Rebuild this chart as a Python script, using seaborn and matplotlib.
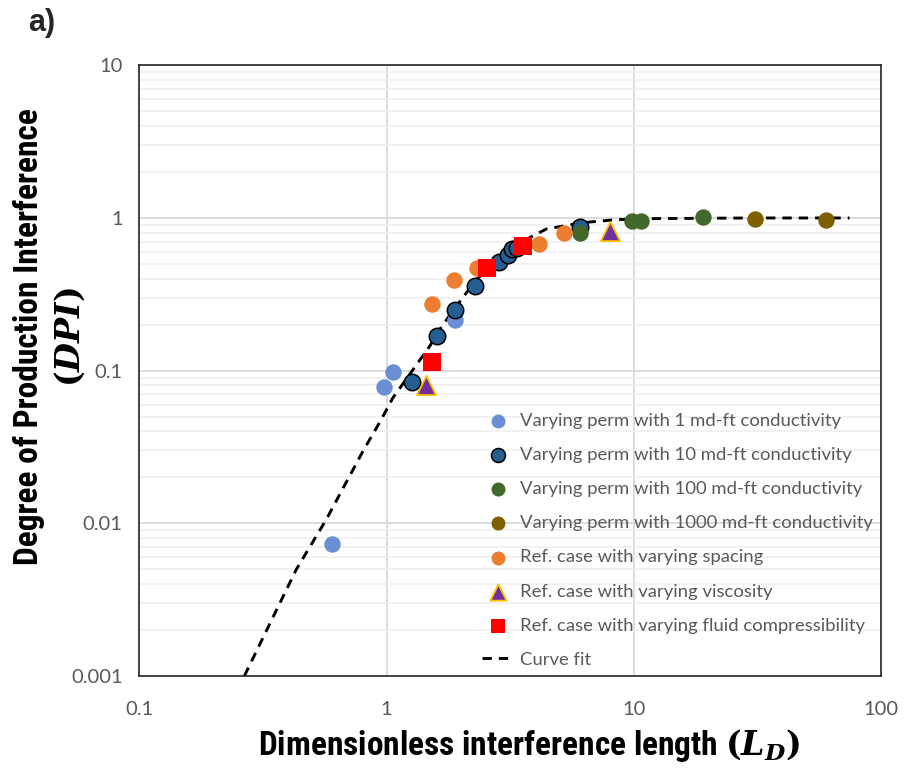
import matplotlib
matplotlib.use("Agg")
import matplotlib.pyplot as plt
import seaborn as sns
from matplotlib import font_manager as fm
from matplotlib.ticker import FixedLocator, FixedFormatter, LogLocator, NullFormatter

# ---------------- data ----------------
perm1_x = [0.601, 0.98, 1.067, 1.90]
perm1_y = [0.00733, 0.0778, 0.098, 0.216]
perm10_x = [1.266, 1.598, 1.90, 2.27, 2.84, 3.10, 3.22, 3.38, 6.04]
perm10_y = [0.0843, 0.168, 0.248, 0.356, 0.515, 0.575, 0.625, 0.636, 0.873]
perm100_x = [6.04, 9.86, 10.72, 19.0]
perm100_y = [0.798, 0.95, 0.96, 1.015]
perm1000_x = [30.8, 60.1]
perm1000_y = [0.985, 0.975]
spacing_x = [1.525, 1.867, 2.32, 4.13, 5.22]
spacing_y = [0.273, 0.394, 0.471, 0.679, 0.798]
visc_x = [1.447, 7.98]
visc_y = [0.080, 0.817]
comp_x = [1.525, 2.556, 3.58]
comp_y = [0.1133, 0.471, 0.659]
fit_x = [0.266, 0.431, 0.570, 0.802, 0.952, 1.06, 1.493, 1.64, 1.914,
         2.306, 2.78, 3.45, 4.43, 6.21, 8.52, 11.6, 29.4, 74.6]
fit_y = [0.001, 0.00497, 0.01057, 0.0296, 0.0478, 0.0662, 0.144, 0.186, 0.264,
         0.394, 0.520, 0.686, 0.847, 0.932, 0.975, 0.99, 1.0, 1.0]

x_ticks = [0.1, 1, 10, 100]
x_tick_labels = ["0.1", "1", "10", "100"]
y_ticks = [0.001, 0.01, 0.1, 1, 10]
y_tick_labels = ["0.001", "0.01", "0.1", "1", "10"]

labels = [
    "Varying perm with 1 md-ft conductivity",
    "Varying perm with 10 md-ft conductivity",
    "Varying perm with 100 md-ft conductivity",
    "Varying perm with 1000 md-ft conductivity",
    "Ref. case with varying spacing",
    "Ref. case with varying viscosity",
    "Ref. case with varying fluid compressibility",
    "Curve fit",
]
x_title_words = "Dimensionless interference length"
x_title = x_title_words + " $(L_D)$"
y_title = "Degree of Production Interference\n$(DPI)$"

# ---------------- style ----------------
sns.set_style("white")
plt.rcParams["font.family"] = ["Lato", "DejaVu Sans"]
plt.rcParams["mathtext.fontset"] = "custom"
plt.rcParams["mathtext.it"] = "DejaVu Serif:italic:bold"
plt.rcParams["mathtext.rm"] = "DejaVu Serif:bold"
plt.rcParams["mathtext.bf"] = "DejaVu Serif:bold"


def weight_num(w):
    try:
        return int(w)
    except (TypeError, ValueError):
        return {"bold": 700, "heavy": 800, "black": 900, "extra bold": 800,
                "semibold": 600, "demibold": 600, "demi": 600}.get(str(w).lower(), 400)


def pick_narrow_bold():
    prefs = ["liberation sans narrow", "arial narrow", "roboto condensed",
             "noto sans", "open sans", "dejavu sans"]
    best, best_score = None, None
    for f in fm.fontManager.ttflist:
        name = f.name.lower()
        st = str(f.stretch).lower()
        if "mono" in name or "serif" in name or "cjk" in name or "display" in name:
            continue
        if weight_num(f.weight) != 700:
            continue
        fname = f.fname.lower()
        is_cond = ("narrow" in name or "condensed" in name or st in ("condensed", "semi-condensed")
                   or ("condensed" in fname and "extra" not in fname and "semi" not in fname)
                   or (st.isdigit() and 500 <= int(st) <= 600))
        if not is_cond:
            continue
        rank = len(prefs)
        for i, p in enumerate(prefs):
            if name.startswith(p):
                rank = i
                break
        score = (rank, "semi" in fname or "semi" in st)
        if best_score is None or score < best_score:
            best, best_score = f, score
    return best


nb = pick_narrow_bold()
if nb is not None:
    lab_fp = fm.FontProperties(fname=nb.fname, size=21)
else:
    lab_fp = fm.FontProperties(family=["Roboto", "Liberation Sans", "DejaVu Sans"],
                               weight="bold", size=21)

fig = plt.figure(figsize=(9.13, 7.68), dpi=100)
ax = fig.add_axes([139.3 / 913, 1 - 676 / 768, (881 - 139.3) / 913, (676 - 65.3) / 768])
ax.set_xscale("log")
ax.set_yscale("log")

# curve fit (below the markers)
sns.lineplot(x=fit_x, y=fit_y, ax=ax, sort=False, estimator=None, color="black",
             linewidth=2.1, linestyle=(0, (3.2, 2.4)), label=labels[7], zorder=2)

S = 140
sns.scatterplot(x=perm1_x, y=perm1_y, ax=ax, color="#6A8FD4", marker="o", s=S,
                linewidth=0, label=labels[0], zorder=3)
sns.scatterplot(x=perm10_x, y=perm10_y, ax=ax, color="#255E91", marker="o", s=S,
                edgecolor="black", linewidth=1.1, label=labels[1], zorder=3)
sns.scatterplot(x=perm100_x, y=perm100_y, ax=ax, color="#43682B", marker="o", s=S,
                linewidth=0, label=labels[2], zorder=3)
sns.scatterplot(x=perm1000_x, y=perm1000_y, ax=ax, color="#7F6000", marker="o", s=S,
                linewidth=0, label=labels[3], zorder=3)
sns.scatterplot(x=spacing_x, y=spacing_y, ax=ax, color="#ED7D31", marker="o", s=S,
                linewidth=0, label=labels[4], zorder=3)
sns.scatterplot(x=visc_x, y=visc_y, ax=ax, color="#7030A0", marker="^", s=190,
                edgecolor="#FFC000", linewidth=1.3, label=labels[5], zorder=3)
sns.scatterplot(x=comp_x, y=comp_y, ax=ax, color="#FF0000", marker="s", s=150,
                linewidth=0, label=labels[6], zorder=3)

ax.set_xlim(0.1, 100)
ax.set_ylim(0.001, 10)

# ticks
ax.xaxis.set_major_locator(FixedLocator(x_ticks))
ax.xaxis.set_major_formatter(FixedFormatter(x_tick_labels))
ax.xaxis.set_minor_locator(LogLocator(base=10, subs=range(2, 10)))
ax.xaxis.set_minor_formatter(NullFormatter())
ax.yaxis.set_major_locator(FixedLocator(y_ticks))
ax.yaxis.set_major_formatter(FixedFormatter(y_tick_labels))
ax.yaxis.set_minor_locator(LogLocator(base=10, subs=range(2, 10)))
ax.yaxis.set_minor_formatter(NullFormatter())
ax.tick_params(axis="both", which="both", length=0, labelsize=14.5, colors="#595959")
ax.tick_params(axis="x", pad=18)
ax.tick_params(axis="y", pad=12)

# grid
ax.grid(True, which="major", axis="both", color="#D9D9D9", linewidth=1.3, zorder=0)
ax.grid(True, which="minor", axis="y", color="#EFEFEF", linewidth=1.1, zorder=0)
ax.set_axisbelow(True)
for sp in ax.spines.values():
    sp.set_visible(True)
    sp.set_color("#262626")
    sp.set_linewidth(1.2)

# size the title font so the words span ~470 px as in the reference
probe = fig.text(0, 0, x_title_words, fontproperties=lab_fp)
fig.canvas.draw()
r = fig.canvas.get_renderer()
pw = probe.get_window_extent(r).width
probe.remove()
title_size = 21.0
if pw > 0:
    title_size = max(16.0, min(24.0, 21.0 * 468.0 / pw))
lab_fp.set_size(title_size)

xl = ax.set_xlabel(x_title, fontproperties=lab_fp, color="black")
yl = ax.set_ylabel(y_title, fontproperties=lab_fp, color="black", linespacing=1.25)
ax.xaxis.set_label_coords(0.525, -0.083)
ax.yaxis.set_label_coords(-0.071, 0.555)

fig.text(28 / 913, 1 - 8 / 768, "a)", fontsize=22, fontweight="bold",
         family=["Liberation Sans", "DejaVu Sans"], va="top", ha="left")

# legend in the reference order
handles, labs = ax.get_legend_handles_labels()
hmap = dict(zip(labs, handles))
leg = ax.legend([hmap[l] for l in labels], labels, loc="upper left",
                bbox_to_anchor=(482 / 913, 1 - 413 / 768), bbox_transform=fig.transFigure,
                frameon=False, fontsize=13.3, borderpad=0, borderaxespad=0,
                handlelength=1.7, handletextpad=0.36, labelspacing=0.98, markerscale=0.85)
for t in leg.get_texts():
    t.set_color("#595959")

fig.savefig("out.png", dpi=100)
